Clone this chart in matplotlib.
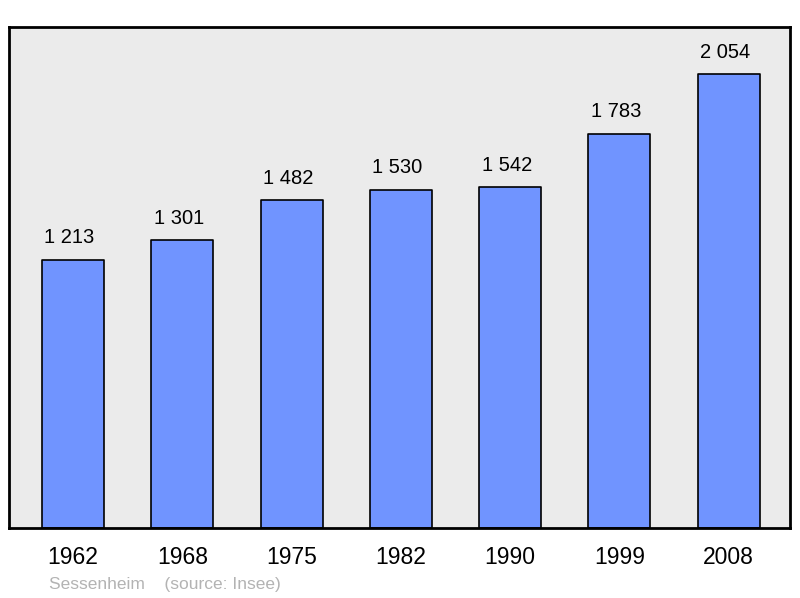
import matplotlib.pyplot as plt

plt.rcParams['font.family'] = ['Liberation Sans', 'DejaVu Sans']

years = ['1962', '1968', '1975', '1982', '1990', '1999', '2008']
population = [1213, 1301, 1482, 1530, 1542, 1783, 2054]
labels = ['1 213', '1 301', '1 482', '1 530', '1 542', '1 783', '2 054']

fig = plt.figure(figsize=(8, 5.98), dpi=100)
ax = fig.add_axes([9 / 800, 1 - 528 / 598, 781 / 800, 501 / 598])
ax.set_facecolor('#ebebeb')

x = range(len(years))
bars = ax.bar(x, population, width=0.567, color='#7094ff', edgecolor='black',
              linewidth=1.2, zorder=2)
for b in bars:
    b.set_joinstyle('round')

for xi, val, lab in zip(x, population, labels):
    ax.annotate(lab, (xi, val), xytext=(-2.5, 9), textcoords='offset points',
                ha='center', va='bottom', fontsize=14.5, color='black')

ax.set_xlim(-0.585, 6.56)
ax.set_ylim(0, 2267)
ax.set_yticks([])
ax.set_xticks(list(x))
ax.set_xticklabels(years, fontsize=16.5)
ax.tick_params(axis='x', length=0, pad=13)

for s in ax.spines.values():
    s.set_linewidth(2)
    s.set_joinstyle('round')

fig.text(49 / 800, 1 - 585 / 598, 'Sessenheim    (source: Insee)',
         fontsize=12.5, color='#b3b3b3', va='center', ha='left')

fig.savefig('out.png', dpi=100)
